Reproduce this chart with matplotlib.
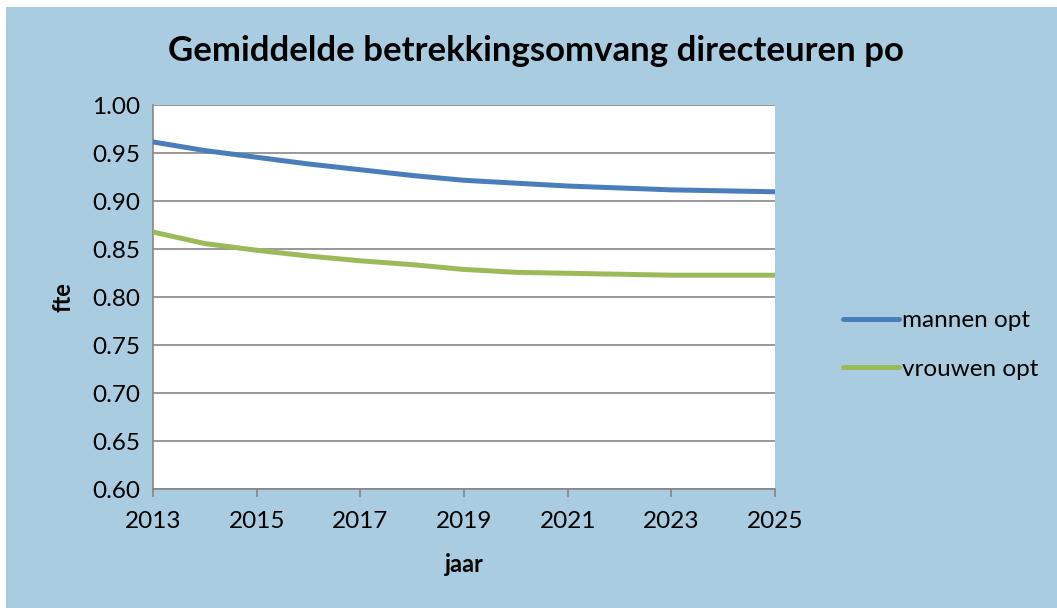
import matplotlib
matplotlib.use("Agg")
import matplotlib.pyplot as plt
from matplotlib.patches import Rectangle

years = [2013, 2014, 2015, 2016, 2017, 2018, 2019, 2020, 2021, 2022, 2023, 2024, 2025]
mannen_opt = [0.962, 0.953, 0.946, 0.939, 0.933, 0.927, 0.922, 0.919, 0.916, 0.914, 0.912, 0.911, 0.910]
vrouwen_opt = [0.868, 0.856, 0.849, 0.843, 0.838, 0.834, 0.829, 0.826, 0.825, 0.824, 0.823, 0.823, 0.823]
x_ticks = [2013, 2015, 2017, 2019, 2021, 2023, 2025]
y_ticks = [0.60, 0.65, 0.70, 0.75, 0.80, 0.85, 0.90, 0.95, 1.00]

title = "Gemiddelde betrekkingsomvang directeuren po"
series_names = ["mannen opt", "vrouwen opt"]

BG = "#A9CCE1"
BLUE = "#4A7EBB"
GREEN = "#9BBB59"
GRID = "#868686"

plt.rcParams['font.family'] = ['Lato', 'DejaVu Sans']

W, H = 1057, 608
fig = plt.figure(figsize=(W / 100, H / 100), dpi=100)
fig.patch.set_facecolor("white")
fig.patches.append(Rectangle((6 / W, 0), 1 - 6 / W, 1 - 7 / H, transform=fig.transFigure,
                             facecolor=BG, edgecolor="none", zorder=-10))

left, right, top, bottom = 153, 775, 105.5, 489
ax = fig.add_axes([left / W, 1 - bottom / H, (right - left) / W, (bottom - top) / H])
ax.set_facecolor("white")

ax.plot(years, mannen_opt, color=BLUE, lw=3.6, label=series_names[0], solid_capstyle="round", zorder=3)
ax.plot(years, vrouwen_opt, color=GREEN, lw=3.6, label=series_names[1], solid_capstyle="round", zorder=3)

ax.set_xlim(2013, 2025)
ax.set_ylim(0.60, 1.00)
ax.set_xticks(x_ticks)
ax.set_xticklabels([str(v) for v in x_ticks])
ax.set_yticks(y_ticks)
ax.set_yticklabels([f"{v:.2f}" for v in y_ticks])
ax.yaxis.grid(True, color=GRID, lw=1.2)
ax.set_axisbelow(True)

for s in ["top", "right"]:
    ax.spines[s].set_visible(False)
for s in ["left", "bottom"]:
    ax.spines[s].set_color(GRID)
    ax.spines[s].set_linewidth(1.2)

ax.tick_params(axis="x", length=6, width=1.2, color=GRID, labelsize=17.5, pad=10, labelcolor="black")
ax.tick_params(axis="y", length=0, labelsize=17.5, pad=9, labelcolor="black")

fig.text(536 / W, 1 - 51 / H, title, ha="center", va="center", fontsize=25, fontweight="bold")
fig.text(63 / W, 1 - 297 / H, "fte", ha="center", va="center", rotation=90, fontsize=17, fontweight="bold")
fig.text(464 / W, 1 - 564 / H, "jaar", ha="center", va="center", fontsize=17, fontweight="bold")

leg = fig.legend(loc="center left", bbox_to_anchor=(821 / W, 1 - 345 / H), frameon=False,
                 fontsize=17.5, handlelength=2.3, handletextpad=0.15, labelspacing=1.15)

fig.savefig("out.png", dpi=100, facecolor=fig.get_facecolor())
